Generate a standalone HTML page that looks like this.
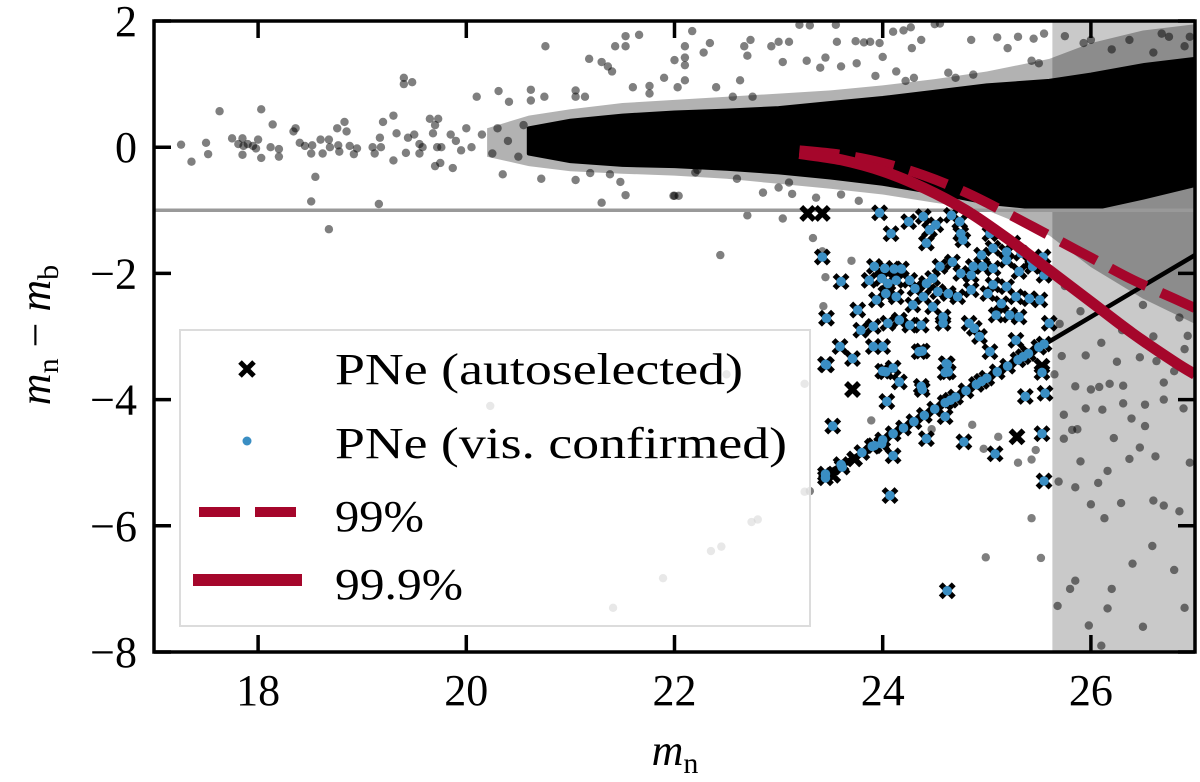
<!DOCTYPE html>
<html><head><meta charset="utf-8"><style>
html,body{margin:0;padding:0;background:#fff;}
svg{display:block;}
text{font-family:"Liberation Serif","DejaVu Serif",serif;}
</style></head><body>
<svg id="chart" width="1200" height="782" viewBox="0 0 1200 782" xmlns="http://www.w3.org/2000/svg" font-family="Liberation Serif, DejaVu Serif, serif">
<defs><clipPath id="plotclip"><rect x="154" y="21" width="1041" height="631"/></clipPath></defs>
<g id="plot" clip-path="url(#plotclip)"></g>
<g id="axes"></g>
<g id="legend">
 <rect x="180" y="330" width="630" height="296" fill="#fff" fill-opacity="0.82" stroke="#dcdcdc" stroke-width="2"/>
 <g>
  <path d="M240 362 L254 376 M254 362 L240 376" stroke="#000" stroke-width="5"/>
  <text x="335" y="384" font-size="44" font-family="Liberation Serif, serif" textLength="408" lengthAdjust="spacingAndGlyphs">PNe (autoselected)</text>
 </g>
 <g>
  <circle cx="247" cy="441" r="4.5" fill="#3a8ec3"/>
  <text x="335" y="458" font-size="44" font-family="Liberation Serif, serif" textLength="452" lengthAdjust="spacingAndGlyphs">PNe (vis. confirmed)</text>
 </g>
 <g>
  <line x1="199" y1="512" x2="296" y2="512" stroke="#a5062b" stroke-width="10" stroke-dasharray="41,15"/>
  <text x="335" y="531" font-size="44" font-family="Liberation Serif, serif" textLength="89" lengthAdjust="spacingAndGlyphs">99%</text>
 </g>
 <g>
  <line x1="193" y1="580" x2="302" y2="580" stroke="#a5062b" stroke-width="12"/>
  <text x="335" y="599" font-size="44" font-family="Liberation Serif, serif" textLength="128" lengthAdjust="spacingAndGlyphs">99.9%</text>
 </g>
</g>
<text x="675" y="765" font-size="44" font-family="Liberation Serif, serif" text-anchor="middle"><tspan font-style="italic">m</tspan><tspan font-size="30" dy="8">n</tspan></text>
<text transform="translate(50,335) rotate(-90)" font-size="44" font-family="Liberation Serif, serif" text-anchor="middle"><tspan font-style="italic">m</tspan><tspan font-size="30" dy="8">n</tspan><tspan dy="-8"> − </tspan><tspan font-style="italic">m</tspan><tspan font-size="30" dy="8">b</tspan></text>
</svg>
<script>
// ---- data ----
const xTicks = [18, 20, 22, 24, 26];
const yTicks = [2, 0, -2, -4, -6, -8];
const xTickLabels = ["18", "20", "22", "24", "26"];
const yTickLabels = ["2", "0", "−2", "−4", "−6", "−8"];
const shadeStart = 25.63;
const refLineY = -1;
const bandX   = [20.6, 21, 21.5, 22, 22.5, 23, 23.5, 24, 24.5, 25, 25.6, 26, 26.5, 27];
const bandTop = [0.3, 0.42, 0.5, 0.55, 0.58, 0.62, 0.7, 0.78, 0.88, 0.98, 1.05, 1.15, 1.3, 1.4];
const bandBot = [-0.1, -0.22, -0.28, -0.3, -0.34, -0.4, -0.48, -0.58, -0.72, -0.88, -0.98, -0.98, -0.8, -0.6];
const haloX   = [20.2, 20.6, 21, 21.5, 22, 22.5, 23, 23.5, 24, 24.5, 25, 25.6, 26, 26.5, 27];
const haloTop = [0.3, 0.5, 0.6, 0.7, 0.75, 0.8, 0.85, 0.9, 0.98, 1.08, 1.2, 1.4, 1.65, 1.85, 1.95];
const haloBot = [-0.15, -0.3, -0.38, -0.42, -0.45, -0.5, -0.58, -0.66, -0.75, -0.88, -1.0, -1.4, -1.9, -2.4, -2.8];
const curve999X = [23.2, 23.6, 24.0, 24.4, 24.8, 25.2, 25.6, 26.0, 26.4, 26.8, 27.0];
const curve999Y = [-0.1, -0.2, -0.38, -0.65, -1.0, -1.45, -1.95, -2.45, -2.95, -3.4, -3.6];
const curve99X  = [23.2, 23.6, 24.0, 24.4, 24.8, 25.2, 25.6, 26.0, 26.4, 26.8, 27.0];
const curve99Y  = [-0.05, -0.12, -0.25, -0.45, -0.72, -1.05, -1.4, -1.75, -2.1, -2.4, -2.55];
const limitLineX = [23.39, 27.0];
const limitLineY = [-5.24, -1.71];
const grayPts = [[17.26,0.04],[17.36,-0.23],[17.5,0.07],[17.52,-0.11],[17.63,0.57],[17.75,0.14],[17.85,0.14],[17.81,0.05],[17.86,0.02],[17.9,0.05],[17.85,-0.12],[17.95,0.02],[17.98,-0.02],[18.03,0.6],[18.0,0.12],[18.14,0.36],[18.12,0.0],[18.2,-0.03],[18.2,-0.15],[18.03,-0.17],[18.34,0.25],[18.36,0.3],[18.4,0.07],[18.45,0.02],[18.52,0.03],[18.51,-0.1],[18.62,-0.1],[18.6,0.12],[18.68,0.12],[18.69,0.0],[18.55,-0.47],[18.51,-0.86],[18.68,-1.3],[18.76,0.3],[18.83,0.4],[18.85,0.25],[18.78,-0.07],[18.77,0.03],[18.88,0.02],[18.92,-0.11],[18.95,-0.02],[19.1,0.0],[19.12,-0.1],[19.18,0.0],[19.17,0.15],[19.16,-0.9],[19.2,0.4],[19.3,0.5],[19.3,-0.21],[19.33,0.22],[19.4,1.0],[19.4,1.1],[19.48,1.03],[19.42,-0.09],[19.44,0.15],[19.5,0.2],[19.55,-0.1],[19.55,0.05],[19.58,0.0],[19.65,0.45],[19.73,0.45],[19.7,0.35],[19.68,0.22],[19.7,-0.3],[19.75,-0.25],[19.87,-0.33],[19.72,0.0],[19.76,0.0],[19.85,0.2],[19.9,0.1],[19.95,-0.05],[20.0,0.3],[20.05,0.0],[20.15,0.2],[20.25,-0.1],[20.3,0.3],[20.4,0.1],[20.5,-0.15],[20.55,0.35],
[20.1,0.8],[20.31,0.89],[20.41,0.72],[20.62,0.91],[20.62,0.74],[20.75,0.8],[20.76,1.6],[21.05,0.9],[21.05,0.8],[21.14,0.8],[21.18,1.4],[21.3,1.35],[21.36,1.28],[21.4,1.2],[21.43,1.6],[21.53,1.6],[21.53,1.76],[21.66,1.78],[21.6,0.95],[21.76,0.97],[21.76,0.85],[21.9,1.1],[20.35,-0.43],[20.72,-0.5],[21.05,-0.52],[21.19,-0.41],[21.38,-0.43],[21.48,-0.55],[21.53,-0.76],[21.3,-0.88],[22.0,-0.77],
[22.17,1.84],[22.1,1.6],[22.34,1.65],[22.28,1.5],[22.0,1.38],[22.1,1.42],[22.1,1.3],[22.1,1.06],[22.03,0.95],[22.4,0.95],[22.63,1.06],[22.56,0.8],[22.75,0.8],[22.67,1.6],[22.73,1.7],[22.93,1.6],[23.0,1.67],[23.1,1.67],[22.7,1.45],[23.04,1.35],[23.27,1.37],[23.4,1.26],[23.45,1.42],[23.6,1.28],[23.75,1.33],[23.2,1.94],[23.3,1.93],[23.55,1.94],[23.56,1.67],[23.74,1.68],[23.82,1.66],[23.88,1.67],[23.97,1.65],[23.93,1.13],[24.0,1.43],[24.1,1.83],[24.2,1.85],[24.27,1.9],[24.28,1.57],[24.37,1.7],[24.13,1.2],[24.22,1.05],[24.3,1.1],[24.5,1.95],[24.55,1.96],[24.63,1.18],[24.7,1.1],[24.85,1.7],[24.87,1.15],[25.1,1.74],[25.3,1.75],[25.45,1.72],[25.55,1.8],[25.2,1.57],[25.43,1.37],[25.5,1.33],[25.75,1.76],[25.93,1.65],[26.0,1.7],[26.37,1.7],[26.68,1.8],[26.75,1.75],[26.9,1.6],[26.6,1.5],[26.2,1.55],[26.95,1.75],
[21.99,-0.77],[22.04,-0.77],[22.2,-0.4],[22.22,-0.36],[22.6,-0.5],[22.85,-0.72],[23.0,-0.64],[23.1,-0.56],[23.13,-0.74],[22.7,-1.08],[23.04,-1.13],[22.44,-1.71],[23.36,-0.8],[23.6,-0.75],[23.77,-0.85],[23.33,-1.44],[23.42,-1.65],[23.45,-2.06],[23.43,-2.52],[23.7,-1.8],
[25.72,-3.31],[25.85,-3.79],[25.95,-4.14],[25.74,-4.24],[25.82,-4.48],[25.87,-4.47],[25.74,-4.62],[25.9,-4.98],[26.07,-5.32],[25.85,-5.39],[25.69,-5.3],[26.0,-5.66],[26.13,-5.88],[26.29,-5.64],[26.16,-5.13],[26.37,-4.94],[26.47,-4.76],[26.62,-4.9],[26.6,-5.6],[26.7,-5.68],[26.85,-5.77],[26.59,-6.32],[25.85,-6.87],[25.8,-7.0],[25.68,-7.27],[25.98,-7.58],[26.16,-7.31],[26.22,-4.61],[26.39,-4.3],[26.52,-4.42],[26.52,-4.08],[26.31,-4.06],[26.11,-4.16],[26.0,-3.84],[26.08,-3.8],[26.18,-3.75],[26.31,-3.78],[26.7,-3.73],[26.89,-4.14],[26.93,-2.99],[26.63,-3.39],[26.8,-3.55],[26.47,-3.33],[26.4,-6.6],[26.2,-7.0],[26.5,-7.6],[26.8,-6.7],[26.9,-7.3],[26.1,-7.9],[26.95,-5.0],[26.7,-4.0],[26.85,-2.7],[26.5,-2.5],[26.3,-2.9],[25.9,-2.6],[25.75,-2.2],[26.1,-3.1],[25.7,-2.8],[25.95,-3.3],[26.25,-3.4],[26.6,-3.0],[26.9,-3.2],[25.65,-3.6],
[23.89,-4.33],[24.47,-4.47],[24.86,-4.4],[25.11,-4.59],[24.97,-4.78],[25.3,-5.0],[25.43,-4.95],[25.47,-4.8],[25.43,-5.88],[24.99,-6.5],[25.52,-6.51],
[20.23,-4.1],[22.5,-3.6],[23.25,-3.75],[22.74,-5.94],[22.8,-5.9],[22.35,-6.4],[22.45,-6.33],[21.89,-6.83],[21.41,-7.3],[23.25,-5.46],[23.3,-5.45]];
const crossOnlyPts = [[23.28,-1.05],[23.42,-1.05],[23.71,-3.84],[25.29,-4.59],[23.73,-4.94],[25.53,-3.47],[23.52,-5.2]];
const pnePts = [[23.97,-1.04],[24.25,-1.18],[24.39,-1.10],[24.66,-1.08],[24.74,-1.18],[24.51,-1.23],[24.45,-1.31],[24.08,-1.37],[24.42,-1.52],[24.75,-1.37],[24.77,-1.47],[25.03,-1.37],[24.95,-1.71],[25.06,-1.60],[25.19,-1.66],[25.25,-1.52],[25.33,-1.68],[25.43,-1.79],[25.54,-1.74],[25.06,-1.92],[25.19,-1.79],[25.31,-1.97],[25.44,-1.89],[25.55,-2.03],[23.42,-1.74],[23.60,-2.13],[23.87,-2.11],[23.92,-1.89],[24.02,-1.92],[24.11,-1.93],[24.18,-1.93],[23.99,-2.08],[24.05,-2.16],[24.13,-2.11],[24.26,-2.11],[24.31,-2.24],[24.42,-2.16],[24.48,-2.08],[24.55,-1.89],[24.67,-1.82],[24.75,-2.00],[24.85,-2.03],[24.87,-1.89],[24.96,-1.89],[25.06,-2.18],[25.19,-2.21],[25.28,-2.37],[25.14,-2.48],[25.01,-2.32],[24.85,-2.26],[24.72,-2.37],[24.63,-2.32],[24.53,-2.29],[24.39,-2.37],[24.29,-2.50],[24.13,-2.37],[24.03,-2.32],[23.94,-2.42],[23.76,-2.58],[23.46,-2.71],[23.79,-2.90],[23.91,-2.84],[24.05,-2.79],[24.16,-2.74],[24.26,-2.82],[24.37,-2.82],[24.48,-2.53],[24.58,-2.69],[24.83,-2.79],[24.88,-2.87],[24.93,-3.00],[25.03,-3.24],[25.09,-2.66],[25.22,-2.66],[25.31,-2.69],[25.41,-2.40],[25.51,-2.42],[25.60,-2.79],[25.28,-3.06],[23.59,-3.16],[23.71,-3.35],[23.46,-3.45],[23.91,-3.16],[24.00,-3.16],[24.03,-3.56],[24.10,-3.50],[24.16,-3.72],[24.35,-3.24],[24.61,-3.43],[24.63,-3.56],[24.37,-3.79],[24.58,-2.79],
[23.45,-3.44],[23.52,-4.42],[23.92,-4.73],[23.99,-4.70],[24.10,-4.89],[24.42,-4.62],[24.78,-4.67],[25.08,-4.86],[25.53,-4.54],[25.55,-5.29],[24.07,-5.52],[24.62,-7.03],[23.45,-5.24],[23.61,-5.07],[24.6,-4.27],[25.37,-3.95],[25.56,-3.90],[25.53,-3.57],[24.62,-3.44],[24.6,-3.57],[24.38,-3.84],[24.38,-3.23],[24.04,-4.03],[24.00,-3.55]];
const lineSeqX = [23.45,23.6,23.8,23.9,24.0,24.1,24.2,24.3,24.4,24.5,24.6,24.65,24.7,24.8,24.9,24.95,25.0,25.1,25.2,25.3,25.35,25.4,25.5,25.55];
const lineSeqY = [-5.18,-5.03,-4.84,-4.74,-4.64,-4.54,-4.45,-4.35,-4.25,-4.15,-4.05,-4.01,-3.96,-3.86,-3.76,-3.71,-3.66,-3.56,-3.47,-3.37,-3.32,-3.27,-3.17,-3.12];

// ---- scales ----
const X0 = 17, X1 = 27, Y0 = -8, Y1 = 2;
const PL = 154, PR = 1195, PT = 21, PB = 652;
function sx(v){ return PL + (v - X0) / (X1 - X0) * (PR - PL); }
function sy(v){ return PT + (Y1 - v) / (Y1 - Y0) * (PB - PT); }
const NS = "http://www.w3.org/2000/svg";
function mk(parent, tag, attrs){
  const el = document.createElementNS(NS, tag);
  for (const k in attrs) el.setAttribute(k, attrs[k]);
  parent.appendChild(el);
  return el;
}
const plot = document.getElementById('plot');
const axes = document.getElementById('axes');

let shade = mk(plot, 'rect', {x: sx(shadeStart), y: PT, width: PR - sx(shadeStart), height: PB - PT, fill: '#c9c9c9'});



function bandPath(xs, top, bot){
  let d = '';
  xs.forEach((x, i) => { d += (i ? 'L' : 'M') + sx(x).toFixed(1) + ' ' + sy(top[i]).toFixed(1) + ' '; });
  for (let i = xs.length - 1; i >= 0; i--) d += 'L' + sx(xs[i]).toFixed(1) + ' ' + sy(bot[i]).toFixed(1) + ' ';
  return d + 'Z';
}
let halo = mk(plot, 'path', {d: bandPath(haloX, haloTop, haloBot), fill: '#000', 'fill-opacity': '0.3'});



const gGray = mk(plot, 'g', {fill: '#000', 'fill-opacity': '0.5'});


grayPts.forEach(p => {
  const c = mk(gGray, 'circle', {cx: sx(p[0]), cy: sy(p[1]), r: 4.2});
  
  
});

let core = mk(plot, 'path', {d: bandPath(bandX, bandTop, bandBot), fill: '#000', 'stroke': '#000', 'stroke-width': '4', 'stroke-linejoin': 'round'});



let ref = mk(plot, 'line', {x1: PL, x2: PR, y1: sy(refLineY), y2: sy(refLineY), stroke: '#999', 'stroke-width': 3.5});



let lim = mk(plot, 'line', {x1: sx(limitLineX[0]), y1: sy(limitLineY[0]), x2: sx(limitLineX[1]), y2: sy(limitLineY[1]), stroke: '#000', 'stroke-width': 4.5});



const gX = mk(plot, 'g', {stroke: '#000', 'stroke-width': 5.5, 'stroke-linecap': 'butt'});


const allCross = pnePts.concat(crossOnlyPts, lineSeqX.map((x, i) => [x, lineSeqY[i]]));
allCross.forEach(p => {
  const cx = sx(p[0]), cy = sy(p[1]), h = 6.5;
  const c = mk(gX, 'path', {d: `M${cx-h} ${cy-h}L${cx+h} ${cy+h}M${cx+h} ${cy-h}L${cx-h} ${cy+h}`});
  
  
});
const gB = mk(plot, 'g', {fill: '#3a8ec3'});


pnePts.concat(lineSeqX.map((x, i) => [x, lineSeqY[i]])).forEach(p => {
  const c = mk(gB, 'circle', {cx: sx(p[0]), cy: sy(p[1]), r: 4.8});
  
  
});

function smoothPath(xs, ys){
  const P = xs.map((x, i) => [sx(x), sy(ys[i])]);
  let d = 'M' + P[0][0].toFixed(1) + ' ' + P[0][1].toFixed(1);
  for (let i = 0; i < P.length - 1; i++) {
    const p0 = P[i - 1] || P[i], p1 = P[i], p2 = P[i + 1], p3 = P[i + 2] || P[i + 1];
    const c1 = [p1[0] + (p2[0] - p0[0]) / 6, p1[1] + (p2[1] - p0[1]) / 6];
    const c2 = [p2[0] - (p3[0] - p1[0]) / 6, p2[1] - (p3[1] - p1[1]) / 6];
    d += ` C${c1[0].toFixed(1)} ${c1[1].toFixed(1)} ${c2[0].toFixed(1)} ${c2[1].toFixed(1)} ${p2[0].toFixed(1)} ${p2[1].toFixed(1)}`;
  }
  return d;
}
let c99 = mk(plot, 'path', {d: smoothPath(curve99X, curve99Y), fill: 'none', stroke: '#a5062b', 'stroke-width': 10, 'stroke-dasharray': '40,16'});


let c999 = mk(plot, 'path', {d: smoothPath(curve999X, curve999Y), fill: 'none', stroke: '#a5062b', 'stroke-width': 11});



let frame = mk(axes, 'rect', {x: PL, y: PT, width: PR - PL, height: PB - PT, fill: 'none', stroke: '#000', 'stroke-width': 3.5});


xTicks.forEach((v, i) => {
  const x = sx(v);
  const t1 = mk(axes, 'path', {d: `M${x} ${PB}V${PB-17}M${x} ${PT}V${PT+17}`, stroke: '#000', 'stroke-width': 3.5});
  
  
  const tl = mk(axes, 'text', {x: x, y: 705, 'font-size': 44, 'text-anchor': 'middle', 'font-family': 'Liberation Serif, serif'});
  tl.textContent = xTickLabels[i];
  
  
});
yTicks.forEach((v, i) => {
  const y = sy(v);
  const t1 = mk(axes, 'path', {d: `M${PL} ${y}H${PL+17}M${PR} ${y}H${PR-17}`, stroke: '#000', 'stroke-width': 3.5});
  
  
  const tl = mk(axes, 'text', {x: 137, y: y + 15, 'font-size': 44, 'text-anchor': 'end', 'font-family': 'Liberation Serif, serif'});
  tl.textContent = yTickLabels[i];
  
  
});
document.getElementById('chart').appendChild(document.getElementById('legend'));
</script>
</body></html>
